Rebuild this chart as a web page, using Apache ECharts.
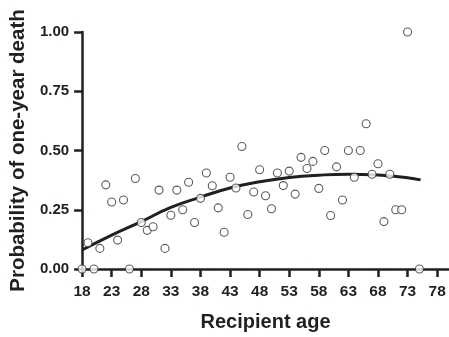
<!DOCTYPE html>
<html>
<head>
<meta charset="utf-8">
<script src="https://cdn.jsdelivr.net/npm/echarts@6/dist/echarts.min.js"></script>
<style>
html,body{margin:0;padding:0;background:#fff;}
#chart{width:449px;height:337px;}
</style>
</head>
<body>
<div id="chart"></div>
<script>
// Observed data: recipient age vs. probability of one-year death
const ages = [18,19,20,21,22,23,24,25,26,27,28,29,30,31,32,33,34,35,36,37,38,39,40,41,42,43,44,45,46,47,48,49,50,51,52,53,54,55,56,57,58,59,60,61,62,63,64,65,66,67,68,69,70,71,72,73,75];
const probs = [0,0.111,0,0.087,0.355,0.283,0.122,0.291,0,0.382,0.196,0.163,0.178,0.333,0.087,0.227,0.333,0.25,0.366,0.196,0.298,0.405,0.351,0.258,0.155,0.387,0.342,0.517,0.23,0.325,0.419,0.309,0.254,0.405,0.352,0.413,0.316,0.471,0.424,0.454,0.34,0.5,0.226,0.431,0.291,0.5,0.387,0.5,0.613,0.4,0.444,0.2,0.4,0.25,0.25,1.0,0];
// Fitted curve
const fitAges = [18,23,28,33,38,43,48,53,58,63,68,73,75.2];
const fitProbs = [0.080,0.143,0.200,0.260,0.303,0.342,0.368,0.386,0.396,0.400,0.397,0.385,0.376];
// Tick labels
const xTicks = [18,23,28,33,38,43,48,53,58,63,68,73,78];
const yTicks = [0,0.25,0.5,0.75,1.0];

const ink = '#231f20';
const font = 'Liberation Sans, Arial, Helvetica, sans-serif';
const chart = echarts.init(document.getElementById('chart'), null, {renderer:'canvas'});
chart.setOption({
  animation:false,
  backgroundColor:'#fff',
  grid:{left:80,right:0,top:32,bottom:60,containLabel:false},
  xAxis:{
    type:'value',min:18,max:80,
    name:'Recipient age',nameLocation:'middle',nameGap:43,
    nameTextStyle:{fontFamily:font,fontWeight:'bold',fontSize:20,color:ink},
    axisLine:{show:true,lineStyle:{color:ink,width:2.5}},
    axisTick:{show:true,length:8,inside:false,lineStyle:{color:ink,width:2.5},customValues:xTicks},
    axisLabel:{fontFamily:font,fontWeight:'bold',fontSize:15.5,color:ink,margin:15,customValues:xTicks},
    splitLine:{show:false}
  },
  yAxis:{
    type:'value',min:0,max:1,interval:0.25,
    name:'Probability of one-year death',nameLocation:'middle',nameGap:52,nameRotate:90,
    nameTextStyle:{fontFamily:font,fontWeight:'bold',fontSize:20.5,color:ink},
    axisLine:{show:true,lineStyle:{color:ink,width:2.5}},
    axisTick:{show:true,length:8,lineStyle:{color:ink,width:2.5},customValues:yTicks},
    axisLabel:{fontFamily:font,fontWeight:'bold',fontSize:15,color:ink,margin:13,
      customValues:yTicks,formatter:v=>v.toFixed(2)},
    splitLine:{show:false}
  },
  series:[
    {type:'line',data:fitAges.map((a,i)=>[a,fitProbs[i]]),smooth:true,showSymbol:false,
     lineStyle:{color:ink,width:3},z:2},
    {type:'scatter',data:ages.map((a,i)=>[a,probs[i]]),symbol:'circle',symbolSize:8,clip:false,
     itemStyle:{color:'#fff',borderColor:'#333',borderWidth:1.1},z:3}
  ]
});
</script>
</body>
</html>
